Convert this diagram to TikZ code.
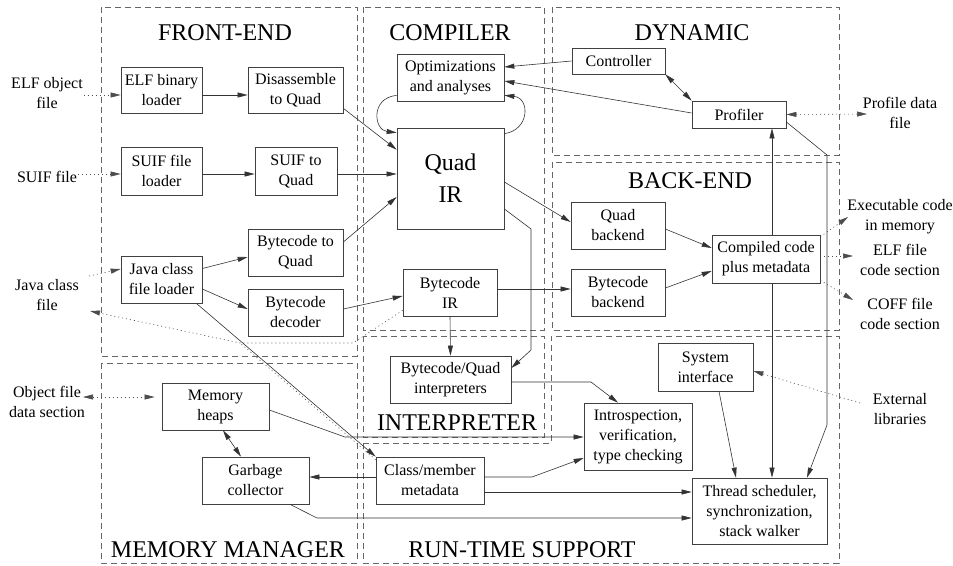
\documentclass[tikz,border=0pt]{standalone}
\usepackage{fontspec}
\setmainfont{Liberation Serif}
\usetikzlibrary{arrows.meta}
\begin{document}
\begin{tikzpicture}[x=1pt,y=-1pt,
  box/.style={draw=black!75, line width=0.7pt, align=center, inner sep=0pt, font=\fontsize{16}{20}\selectfont},
  sz/.style 2 args={minimum width=#1pt, minimum height=#2pt},
  lab/.style={align=center, inner sep=1pt, font=\fontsize{16}{20}\selectfont},
  ttl/.style={inner sep=0pt, font=\fontsize{24}{28}\selectfont},
  region/.style={draw=black!60, line width=0.6pt, dash pattern=on 6pt off 4pt},
  tip/.tip={Triangle[length=10pt,width=5pt]},
  arr/.style={draw=black!80, line width=0.6pt, -tip},
  darr/.style={draw=black!80, line width=0.6pt, tip-tip},
  dotln/.style={draw=black!70, line width=0.6pt, dash pattern=on 1pt off 3pt},
  dotarr/.style={dotln, -tip},
  ddotarr/.style={dotln, tip-tip}
]
\useasboundingbox (0,0) rectangle (953,565);

% regions
\draw[region] (101,7) rectangle (357,356);
\draw[region] (363,7) rectangle (544,330);
\draw[region] (552,7) rectangle (839,155);
\draw[region] (552,162) rectangle (839,330);
\draw[region] (363,336) rectangle (544,437);
\draw[region] (363,443) -- (551,443) -- (551,336) -- (839,336) -- (839,563) -- (363,563) -- cycle;
\draw[region] (101,363) rectangle (357,563);

% titles
\node[ttl] (tfe) at (225,33) {FRONT-END};
\node[ttl] (tco) at (450,33) {COMPILER};
\node[ttl] (tdy) at (692,33) {DYNAMIC};
\node[ttl] (tbe) at (690,181) {BACK-END};
\node[ttl] (tin) at (457,423) {INTERPRETER};
\node[ttl] (tmm) at (228,550) {MEMORY MANAGER};
\node[ttl] (trt) at (522,550) {RUN-TIME SUPPORT};

% boxes
\node[box, sz={81}{46}] (elf) at (161.5,90) {ELF binary\\loader};
\node[box, sz={95}{46}] (dis) at (295.5,90) {Disassemble\\to Quad};
\node[box, sz={81}{48}] (suifl) at (161.5,171) {SUIF file\\loader};
\node[box, sz={82}{48}] (suifq) at (296,171) {SUIF to\\Quad};
\node[box, sz={95}{47}] (btq) at (295.5,252.5) {Bytecode to\\Quad};
\node[box, sz={81}{47}] (jcl) at (161.5,279.5) {Java class\\file loader};
\node[box, sz={95}{47}] (bdec) at (295.5,312.5) {Bytecode\\decoder};
\node[box, sz={107}{47}] (opt) at (450.5,77.5) {Optimizations\\and analyses};
\node[box, sz={107}{101}, font=\fontsize{24}{32}\selectfont] (quad) at (450.5,178.5) {Quad\\IR};
\node[box, sz={94}{47}] (bir) at (450,292.5) {Bytecode\\IR};
\node[box, sz={121}{47}] (interp) at (450.5,379.5) {Bytecode/Quad\\interpreters};
\node[box, sz={93}{26}] (ctrl) at (618.5,61) {Controller};
\node[box, sz={94}{27}] (prof) at (739,114.5) {Profiler};
\node[box, sz={94}{47}] (qbe) at (618,225.5) {Quad\\backend};
\node[box, sz={94}{47}] (bbe) at (618,292.5) {Bytecode\\backend};
\node[box, sz={108}{48}] (comp) at (766,259) {Compiled code\\plus metadata};
\node[box, sz={95}{48}] (sysi) at (705.5,367) {System\\interface};
\node[box, sz={108}{67}] (intro) at (638,436.5) {Introspection,\\verification,\\type checking};
\node[box, sz={135}{66}] (thread) at (759.5,511) {Thread scheduler,\\synchronization,\\stack walker};
\node[box, sz={107}{47}] (heaps) at (215.5,406.5) {Memory\\heaps};
\node[box, sz={107}{47}] (gc) at (255.5,480.5) {Garbage\\collector};
\node[box, sz={108}{47}] (cm) at (430,480.5) {Class/member\\metadata};

% outside labels
\node[lab] (elfobj) at (47,93) {ELF object\\file};
\node[lab] (suiflab) at (47,177) {SUIF file};
\node[lab] (javalab) at (47,295) {Java class\\file};
\node[lab] (objlab) at (47,402) {Object file\\data section};
\node[lab] (pdlab) at (900,113) {Profile data\\file};
\node[lab] (exlab) at (900,217) {Executable code\\in memory};
\node[lab] (elflab) at (900,260) {ELF file\\code section};
\node[lab] (cofflab) at (900,314) {COFF file\\code section};
\node[lab] (extlab) at (900,409) {External\\libraries};

% free ends and bends
\coordinate (jin) at (89,276);
\coordinate (jout) at (90,311);
\coordinate (dj) at (240,343);
\coordinate (dk) at (353,343);
\coordinate (pdend) at (867,114);
\coordinate (exend) at (848,217);
\coordinate (elfend) at (853,256);
\coordinate (coffend) at (853,300);
\coordinate (extstart) at (860,403);
\coordinate (objend) at (83,397);
\coordinate (qb1) at (531,229);
\coordinate (qb2) at (531,350);
\coordinate (pb1) at (827,155);
\coordinate (pb2) at (827,425);
\coordinate (ib1) at (591,382);
\coordinate (hb1) at (345,437);
\coordinate (cb1) at (532,477);
\coordinate (gb1) at (317,518);

% front-end connectors
\draw[dotarr] ([yshift=-5pt]elf.west -| elfobj.east) -- ([yshift=-5pt]elf.west);
\draw[arr] ([yshift=-5pt]elf.east) -- ([yshift=-5pt]dis.west);
\draw[arr] ([yshift=5pt]dis.south east) -- ([yshift=-22pt]quad.north west);
\draw[dotarr] ([yshift=-3pt]suifl.west -| suiflab.east) -- ([yshift=-3pt]suifl.west);
\draw[arr] ([yshift=-3pt]suifl.east) -- ([yshift=-3pt]suifq.west);
\draw[arr] ([yshift=-3pt]suifq.east) -- ([yshift=-3pt]suifq.east -| quad.west);
\draw[dotarr] (jin) -- ([yshift=10.5pt]jcl.west);
\draw[arr] ([yshift=11pt]jcl.east) -- ([yshift=-4.5pt]btq.west);
\draw[arr] ([yshift=-9.5pt]jcl.east) -- ([yshift=3.5pt]bdec.west);
\draw[arr] ([yshift=10.5pt]btq.east) -- ([yshift=-18.5pt]quad.west);
\draw[arr] ([yshift=3.5pt]bdec.east) -- ([yshift=-3.5pt]bir.west);
\draw[arr] ([xshift=-6pt]jcl.south east) -- (cm.north west);
\draw[dotarr] ([yshift=6pt]bir.south west) -- (dk) -- (dj) -- (jout);
\draw[dotln] ([yshift=-3pt]cm.north west) -- (dj);

% compiler connectors
\draw[arr] ([yshift=6pt]opt.south west) .. controls (370,98) and (374,130) .. ([yshift=-5pt]quad.north west);
\draw[arr] ([yshift=-6pt]quad.north east) .. controls (530,130) and (530,98) .. ([yshift=6pt]opt.south east);
\draw[arr] (ctrl.west) -- ([yshift=10.5pt]opt.east);
\draw[arr] ([yshift=1.5pt]prof.west) -- ([yshift=-3.5pt]opt.east);
\draw[darr] (ctrl.south east) -- (prof.north west);
\draw[ddotarr] (prof.east) -- (pdend);
\draw[arr] ([yshift=-3.5pt]quad.east) -- ([yshift=3.5pt]qbe.west);
\draw[arr] ([yshift=-30.5pt]quad.east) -- (qb1) -- (qb2) -- ([yshift=11.5pt]interp.east);
\draw[arr] ([yshift=3.5pt]bir.east) -- ([yshift=3.5pt]bbe.west);
\draw[arr] (bir.south) -- (interp.north);

% back-end connectors
\draw[arr] ([yshift=-3.5pt]qbe.east) -- ([yshift=11pt]comp.west);
\draw[arr] ([yshift=4.5pt]bbe.east) -- ([yshift=-12pt]comp.west);
\draw[arr] ([xshift=6pt]comp.north) -- ([xshift=6pt]comp.north |- prof.south);
\draw[arr] ([xshift=6pt]comp.south) -- ([xshift=6pt]comp.south |- thread.north);
\draw[arr] ([yshift=-7.5pt]prof.east) -- (pb1) -- (pb2) -- ([xshift=47.5pt]thread.north);
\draw[dotarr] ([yshift=-2pt]comp.north east) -- (exend);
\draw[dotarr] ([yshift=3pt]comp.east) -- (elfend);
\draw[dotarr] ([yshift=3pt]comp.south east) -- (coffend);

% run-time connectors
\draw[dotarr] (extstart) -- ([yshift=-4pt]sysi.east);
\draw[arr] ([xshift=13.5pt]sysi.south) -- ([xshift=-23.5pt]thread.north);
\draw[arr] ([yshift=-2.5pt]interp.east) -- (ib1) -- ([xshift=-20pt]intro.north);
\draw[arr] ([yshift=-3.5pt]heaps.east) -- (hb1) -- ([yshift=-0.5pt]intro.west);
\draw[arr] ([yshift=3.5pt]cm.east) -- (cb1) -- ([yshift=-21.5pt]intro.west);
\draw[arr] ([yshift=-11.5pt]cm.east) -- ([yshift=19pt]thread.west);
\draw[arr] ([yshift=3.5pt]cm.west) -- ([yshift=3.5pt]gc.east);
\draw[arr] ([xshift=34.5pt]gc.south) -- (gb1) -- ([yshift=-7pt]thread.west);

% memory manager connectors
\draw[ddotarr] (objend) -- ([xshift=-7pt,yshift=9.5pt]heaps.west);
\draw[darr] ([xshift=7.5pt]heaps.south) -- ([xshift=-14.5pt]gc.north);
\end{tikzpicture}
\end{document}
